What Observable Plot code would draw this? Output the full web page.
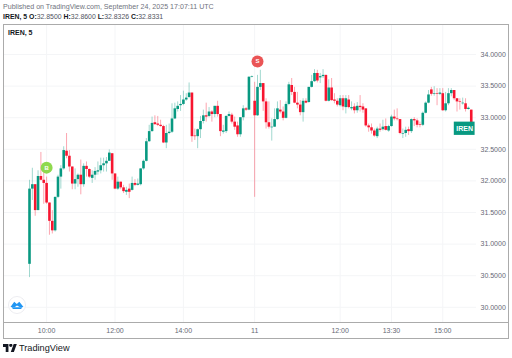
<!DOCTYPE html>
<html><head><meta charset="utf-8">
<script src="https://cdn.jsdelivr.net/npm/d3@7"></script>
<script src="https://cdn.jsdelivr.net/npm/@observablehq/plot@0.6"></script>
<style>
html,body{margin:0;padding:0;background:#fff;width:512px;height:358px;overflow:hidden;font-family:"Liberation Sans",Arial,sans-serif}
#page{position:relative;width:512px;height:358px}
.h1{position:absolute;left:3px;top:2px;font-size:7.1px;line-height:10px;color:#70737e;white-space:nowrap}
.h2{position:absolute;left:3px;top:11.5px;font-size:6.9px;line-height:10px;color:#50535e;white-space:nowrap}
.h2 b{color:#131722}
#frame{position:absolute;left:3px;top:23.5px;width:504px;height:313px;border:1px solid #ababab;box-sizing:content-box}
#divider{position:absolute;left:3px;top:321.5px;width:505px;height:1px;background:#ababab}
#chart{position:absolute;left:0;top:24px}
#chart svg{display:block}
.sym{position:absolute;left:8px;top:28.5px;font-size:7px;font-weight:bold;color:#131722}
#badge{position:absolute;left:8px;top:296px;width:18px;height:18px}
#tv{position:absolute;left:3px;top:344px;width:14px;height:8px}
.tvt{position:absolute;left:19px;top:342px;font-size:9.2px;line-height:12px;color:#131722;font-family:"Liberation Sans",Arial,sans-serif}
</style></head><body>
<div id="page">
<div class="h1">Published on TradingView.com, September 24, 2025 17:07:11 UTC</div>
<div class="h2"><b>IREN, 5 O:</b>32.8500 <b>H:</b>32.8600 <b>L:</b>32.8326 <b>C:</b>32.8331</div>
<div id="chart"></div>
<div id="frame"></div><div id="divider"></div>
<div class="sym">IREN, 5</div>
<svg id="badge" viewBox="0 0 18 18"><circle cx="9" cy="9" r="8.5" fill="#fff" stroke="#ededf1"/><path d="M2.5 11 L6.2 5.8 L8.8 8 L11.3 5.8 L15.5 11 L12 11.2 L9 9.6 L6.6 11.2 Z" fill="#2196f3"/><path d="M3.5 11.2 L14.5 11.2 L13 13 L5 13 Z" fill="#2196f3"/></svg>
<svg id="tv" viewBox="0 4 36 18" preserveAspectRatio="none"><path d="M14 22H7V11H0V4h14v18zM28 22h-8l7.5-18h8L28 22z" fill="#131722"/><circle cx="20" cy="7" r="4" fill="#131722"/></svg>
<div class="tvt">TradingView</div>
</div>
<script>
const opens=[30.68,31.87,31.94,31.53,32.07,32.01,31.96,31.65,31.36,31.21,
31.74,32.06,32.19,32.47,32.39,32.22,31.95,32.02,32.09,31.94,
32.23,32.18,32.04,32.09,32.14,32.16,32.24,32.27,32.31,32.43,
32.11,31.87,31.98,31.89,31.82,31.87,31.85,31.96,31.93,31.94,
32.19,32.31,32.62,32.78,32.92,32.90,32.88,32.86,32.60,32.75,
32.77,32.98,33.13,33.19,33.21,33.28,33.32,33.39,32.71,32.70,
32.81,32.94,33.03,33.02,33.09,33.05,33.18,33.05,32.77,32.78,
33.02,33.04,32.93,32.87,32.73,33.00,33.14,33.12,33.64,33.26,
33.03,33.48,33.54,33.25,32.92,32.84,32.85,32.97,33.12,33.09,
32.99,33.21,33.51,33.40,33.23,33.20,33.08,33.26,33.24,33.48,
33.57,33.70,33.63,33.65,33.67,33.26,33.47,33.28,33.26,33.19,
33.30,33.16,33.28,33.14,33.17,33.11,33.18,33.17,33.14,32.87,
32.84,32.79,32.70,32.82,32.81,32.86,32.79,32.86,33.01,32.98,
32.97,32.74,32.75,32.81,32.78,32.97,32.95,32.89,32.88,33.07,
33.23,33.44,33.37,33.38,33.37,33.38,33.11,33.22,33.38,33.43,
33.30,33.25,33.22,33.22,33.13,33.12];
const closes=[31.87,31.94,31.53,32.07,32.01,31.96,31.65,31.36,31.21,31.74,
32.06,32.19,32.48,32.39,32.22,31.95,32.02,32.09,31.94,32.23,
32.18,32.06,32.09,32.15,32.16,32.24,32.27,32.31,32.44,32.11,
31.87,31.98,31.89,31.83,31.85,31.82,31.96,31.93,31.95,32.19,
32.31,32.62,32.78,32.91,32.89,32.88,32.86,32.60,32.75,32.77,
32.98,33.14,33.18,33.21,33.28,33.31,33.39,32.70,32.70,32.81,
32.94,33.03,33.01,33.09,33.05,33.18,33.05,32.78,32.79,33.02,
33.05,32.93,32.85,32.73,33.00,33.14,33.12,33.64,33.65,33.03,
33.48,33.54,33.25,32.92,32.85,32.85,32.97,33.14,33.09,32.99,
33.21,33.52,33.40,33.23,33.20,33.08,33.26,33.23,33.48,33.57,
33.70,33.58,33.65,33.67,33.26,33.47,33.27,33.26,33.20,33.30,
33.17,33.30,33.16,33.16,33.11,33.18,33.16,33.12,32.87,32.84,
32.79,32.71,32.82,32.80,32.85,32.80,32.86,33.01,32.98,32.97,
32.75,32.75,32.80,32.78,32.97,32.95,32.88,32.88,33.07,33.23,
33.36,33.37,33.38,33.37,33.39,33.11,33.22,33.38,33.43,33.30,
33.25,33.24,33.23,33.13,33.15,32.83];
const highs=[32.01,32.20,31.94,32.16,32.45,32.19,32.06,31.65,31.53,31.74,
32.09,32.24,32.54,32.75,32.48,32.22,32.19,32.11,32.33,32.27,
32.30,32.19,32.16,32.21,32.30,32.36,32.36,32.37,32.49,32.43,
32.11,32.06,31.98,31.93,31.90,31.95,32.06,32.02,32.03,32.19,
32.33,32.67,32.88,33.01,33.03,33.02,32.96,32.88,32.88,32.90,
33.22,33.23,33.25,33.35,33.42,33.38,33.55,33.39,32.82,32.82,
33.02,33.12,33.23,33.16,33.11,33.18,33.26,33.05,32.88,33.03,
33.09,33.07,33.01,32.93,33.00,33.19,33.16,33.65,33.66,33.56,
33.67,33.75,33.54,33.30,33.25,32.98,33.14,33.25,33.27,33.17,
33.25,33.56,33.62,33.48,33.40,33.27,33.30,33.30,33.48,33.67,
33.76,33.75,33.70,33.76,33.67,33.60,33.62,33.38,33.30,33.35,
33.35,33.35,33.35,33.25,33.22,33.24,33.35,33.22,33.14,32.90,
32.90,32.82,32.85,32.90,32.96,32.98,32.88,33.04,33.12,33.14,
32.97,32.82,32.85,32.85,32.98,33.00,32.98,32.93,33.09,33.25,
33.43,33.48,33.49,33.46,33.46,33.46,33.40,33.46,33.46,33.43,
33.30,33.30,33.31,33.30,33.17,33.12];
const lows=[30.47,31.69,31.44,31.53,32.00,31.63,31.63,31.14,31.16,31.19,
31.72,31.87,32.17,32.35,32.14,31.86,31.86,31.90,31.78,31.90,
32.06,32.04,31.96,32.01,32.09,32.11,32.14,32.14,32.31,32.01,
31.86,31.85,31.86,31.80,31.77,31.72,31.84,31.91,31.92,31.92,
32.17,32.30,32.61,32.77,32.88,32.86,32.85,32.59,32.51,32.73,
32.75,32.97,33.09,33.10,33.19,33.26,33.30,32.61,32.64,32.51,
32.67,32.90,32.93,33.00,32.93,33.00,33.01,32.70,32.74,32.75,
33.01,32.90,32.80,32.69,32.69,32.95,33.10,33.11,33.63,31.74,
33.02,33.43,33.10,32.82,32.82,32.63,32.85,32.96,33.06,32.95,
32.98,33.19,33.35,33.22,33.14,33.03,32.93,33.22,33.23,33.47,
33.56,33.55,33.54,33.62,33.25,33.25,33.26,33.22,33.17,33.17,
33.11,33.06,33.14,33.11,33.06,33.07,33.09,33.07,32.85,32.77,
32.74,32.69,32.67,32.77,32.79,32.79,32.77,32.85,32.95,32.95,
32.73,32.67,32.69,32.72,32.75,32.86,32.84,32.84,32.86,33.06,
33.22,33.34,33.34,33.19,33.35,33.10,33.09,33.19,33.33,33.27,
33.09,33.12,33.20,33.09,33.12,32.83];
const priceTicks=[30,30.5,31,31.5,32,32.5,33,33.5,34];
const timeTicks=[6,30,54,79,109,127,145];
const timeLabels=["10:00","12:00","14:00","11","12:00","13:30","15:00"];
const signalBars=[6,80];
const signalPrices=[32.21,33.89];
const signalLabels=["B","S"];
const signalColors=["#8fd94e","#ea5455"];
const tagLabel="IREN";

const up="#089981", down="#f7152f", ink="#666975";
const bars=opens.map((o,i)=>({i,o,h:highs[i],l:lows[i],c:closes[i],color:closes[i]<o?down:up}));
const signals=signalBars.map((i,k)=>({i,p:signalPrices[k],t:signalLabels[k],color:signalColors[k]}));
const last=bars[bars.length-1];
const step=2.85, x0=29;

const plot=Plot.plot({
  width:512,height:314,
  marginTop:0,marginBottom:16,marginLeft:4,marginRight:36,
  style:{background:"transparent",fontFamily:'"Liberation Sans",Arial,sans-serif'},
  x:{type:"linear",domain:[(4-x0)/step,(476-x0)/step],range:[4,476]},
  y:{type:"linear",domain:[29.7595,34.4747],range:[298,0]},
  marks:[
    Plot.gridX(timeTicks,{stroke:"#f4f5f7",strokeOpacity:1,strokeWidth:1}),
    Plot.gridY(priceTicks,{stroke:"#f4f5f7",strokeOpacity:1,strokeWidth:1}),
    Plot.ruleX(bars,{x:"i",y1:"l",y2:"h",stroke:"color",strokeWidth:1,strokeOpacity:0.38}),
    Plot.ruleX(bars,{x:"i",y1:"o",y2:"c",stroke:"color",strokeWidth:2.6}),
    Plot.dot(signals,{x:"i",y:"p",r:6,fill:"color",stroke:"none"}),
    Plot.text(signals,{x:"i",y:"p",text:"t",fill:"#fff",fontSize:6,fontWeight:"bold"}),
    Plot.rect([last],{x1:d=>d.i-5.95,x2:d=>d.i+1.35,y1:d=>d.c-0.11,y2:d=>d.c+0.10,fill:up}),
    Plot.text([last],{x:d=>d.i-2.3,y:"c",text:()=>tagLabel,fill:"#fff",fontSize:7,fontWeight:"bold"}),
    Plot.axisY(priceTicks,{anchor:"right",tickSize:0,tickPadding:4,tickFormat:d=>d.toFixed(4),fontSize:7,fill:ink,label:null}),
    Plot.axisX(timeTicks,{anchor:"bottom",tickSize:0,tickPadding:6,tickFormat:(d,k)=>timeLabels[k],fontSize:7,fill:ink,label:null})
  ]
});
document.getElementById("chart").appendChild(plot);
</script>
</body></html>
